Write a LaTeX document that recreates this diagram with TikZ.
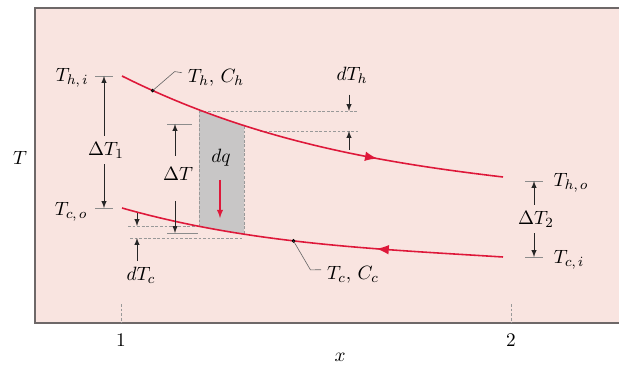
\documentclass[tikz,border=0pt]{standalone}
\usetikzlibrary{decorations.markings}

\definecolor{bgpink}{RGB}{249,228,224}
\definecolor{framegray}{RGB}{110,104,104}
\definecolor{streamred}{RGB}{222,24,58}
\definecolor{boxgray}{RGB}{200,198,198}

\begin{document}
\begin{tikzpicture}[>=latex, x=0.02cm, y=-0.02cm,
  every node/.style={font=\fontsize{11}{13}\selectfont},
  dimline/.style={black!45, line width=0.35pt},
  dimarrow/.style={->, black!85, line width=0.35pt},
  guide/.style={black!40, line width=0.35pt, dash pattern=on 1.6pt off 1pt},
  stream/.style={draw=streamred, line width=0.9pt},
  flow/.style={postaction={decorate}, decoration={markings,
    mark=at position #1 with {\arrow[scale=1.3]{latex}}}},
  leader/.style={black!60, line width=0.35pt}]
  \useasboundingbox (0,0) rectangle (619,368);
  % Panel behind the streams.
  \fill[bgpink] (35,8) rectangle (619,323);
  \draw[framegray, line width=0.9pt] (619,8) -- (35,8) -- (35,323) -- (619,323);
  % Axis ticks and labels.
  \draw[guide] (121,304) -- (121,323);
  \draw[guide] (511,304) -- (511,323);
  \node (one) at (121,340) {$1$};
  \node (two) at (511,340) {$2$};
  \node (xlab) at (340,357) {$x$};
  \node (tlab) at (20,158) {$T$};
  % The element dq, cut out between the two streams.
  \begin{scope}
    \clip (199,0) rectangle (244,400);
    \fill[boxgray] (122,76) .. controls (250,140) and (376,162) .. (503,177)
      -- (503,257) .. controls (376,249) and (249,244) .. (122,208) -- cycle;
  \end{scope}
  \draw[guide] (199,110) -- (199,226);
  \draw[guide] (244,126) -- (244,235);
  % Guide lines for the small changes.
  \draw[guide] (199,111) -- (358,111);
  \draw[guide] (260,131) -- (358,131);
  \draw[guide] (128,226) -- (199,226);
  \draw[guide] (130,238) -- (244,238);
  % Hot and cold streams.
  \draw[stream, flow=0.68] (122,76) .. controls (250,140) and (376,162) .. (503,177)
    coordinate[pos=0.08] (hdot);
  \draw[stream, flow=0.33] (503,257) .. controls (376,249) and (249,244) .. (122,208)
    coordinate[pos=0.55] (cdot);
  % End temperatures.
  \node (thi) at (72,78) {$T_{h,\,i}$};
  \node (tco) at (71,212) {$T_{c,\,o}$};
  \node (tho) at (571,183) {$T_{h,\,o}$};
  \node (tci) at (569,260) {$T_{c,\,i}$};
  % Stream labels with leaders.
  \node[anchor=west] (thch) at (182,78) {$T_h,\,C_h$};
  \node[anchor=west] (tccc) at (321,275) {$T_c,\,C_c$};
  \fill (hdot) circle (1.1pt);
  \fill (cdot) circle (1.1pt);
  \draw[leader] (hdot) -- ++(22,-19) -- ([yshift=3pt]thch.west);
  \draw[leader] (cdot) -- ++(17,29) -- ([yshift=3pt]tccc.west);
  % Delta T_1 at the inlet end.
  \coordinate (d1top) at (104,76);
  \coordinate (d1bot) at (104,208);
  \draw[dimline] (d1top) +(-9,0) -- +(9,0);
  \draw[dimline] (d1bot) +(-9,0) -- +(9,0);
  \node (dt1) at (106,150) {$\Delta T_1$};
  \draw[dimarrow] (dt1.north -| d1top) -- (d1top);
  \draw[dimarrow] (dt1.south -| d1bot) -- (d1bot);
  % Delta T at x.
  \coordinate (dtop) at (175,124);
  \coordinate (dbot) at (175,233);
  \draw[dimline] (dtop) +(-8,0) -- +(17,0);
  \draw[dimline] (dbot) +(-8,0) -- +(23,0);
  \node (dt) at (178,174) {$\Delta T$};
  \draw[dimarrow, shorten <=3pt] (dt.north -| dtop) -- (dtop);
  \draw[dimarrow, shorten <=8pt] (dt.south -| dbot) -- (dbot);
  % Delta T_2 at the outlet end.
  \coordinate (d2top) at (534,181);
  \coordinate (d2bot) at (534,257);
  \draw[dimline] (d2top) +(-9,0) -- +(9,0);
  \draw[dimline] (d2bot) +(-9,0) -- +(9,0);
  \node (dt2) at (536,219) {$\Delta T_2$};
  \draw[dimarrow] (dt2.north -| d2top) -- (d2top);
  \draw[dimarrow] (dt2.south -| d2bot) -- (d2bot);
  % dT_h and dT_c.
  \coordinate (hdtop) at (349,111);
  \coordinate (hdbot) at (349,131);
  \node (dth) at (352,75) {$dT_h$};
  \draw[dimarrow, shorten <=3pt] (dth.south -| hdtop) -- (hdtop);
  \draw[dimarrow] (hdbot) +(0,19) -- (hdbot);
  \coordinate (cdtop) at (137,226);
  \coordinate (cdbot) at (137,238);
  \node (dtc) at (141,275) {$dT_c$};
  \draw[dimarrow] (cdtop) +(0,-13) -- (cdtop);
  \draw[dimarrow] (dtc.north -| cdbot) -- (cdbot);
  % Heat flow dq.
  \node (dq) at (221,158) {$dq$};
  \coordinate (qtip) at (220,218);
  \draw[->, streamred, line width=0.6pt, shorten <=4pt] (dq.south -| qtip) -- (qtip);
\end{tikzpicture}
\end{document}
